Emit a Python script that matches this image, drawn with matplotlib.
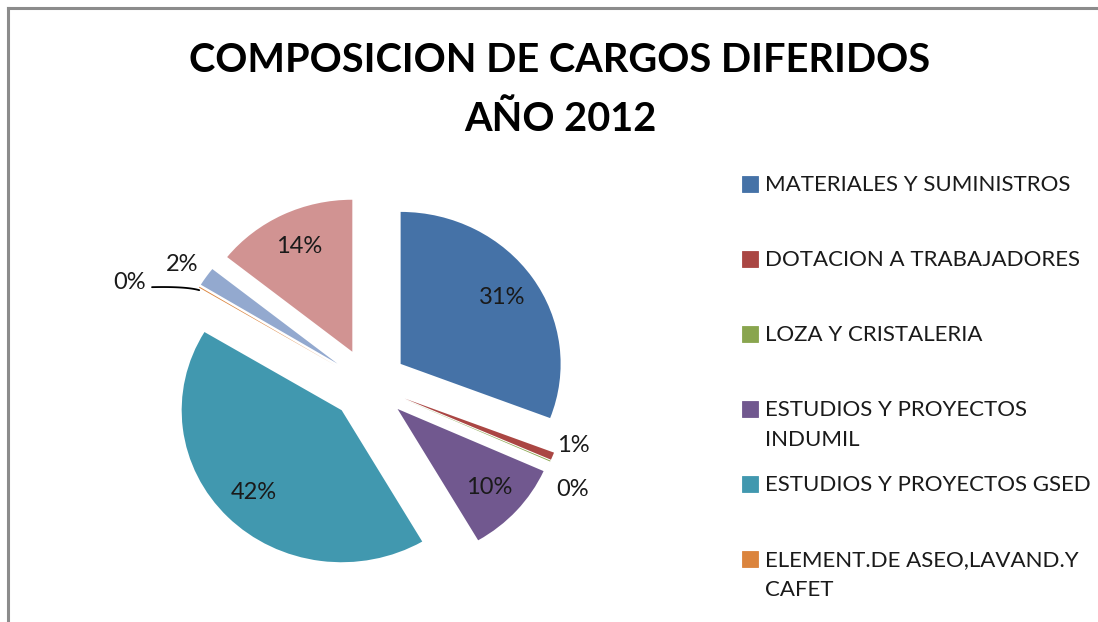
import numpy as np
import matplotlib
matplotlib.use("Agg")
import matplotlib.pyplot as plt
from matplotlib.patches import Rectangle
from matplotlib.lines import Line2D

# ---- data ----
categories = [
    "MATERIALES Y SUMINISTROS",
    "DOTACION A TRABAJADORES",
    "LOZA Y CRISTALERIA",
    "ESTUDIOS Y PROYECTOS INDUMIL",
    "ESTUDIOS Y PROYECTOS GSED",
    "ELEMENT.DE ASEO,LAVAND.Y CAFET",
    "OTROS 1",
    "OTROS 2",
]
values = [30.8, 0.8, 0.1, 9.9, 42.0, 0.1, 2.0, 14.3]
legend_labels = [
    "MATERIALES Y SUMINISTROS",
    "DOTACION A TRABAJADORES",
    "LOZA Y CRISTALERIA",
    "ESTUDIOS Y PROYECTOS\nINDUMIL",
    "ESTUDIOS Y PROYECTOS GSED",
    "ELEMENT.DE ASEO,LAVAND.Y\nCAFET",
]
colors = ["#4572A7", "#AA4643", "#89A54E", "#71588F", "#4198AF",
          "#DB843D", "#93A9CF", "#D19392"]

FONT = "Lato"
W, H = 1098, 622
fig = plt.figure(figsize=(W / 100, H / 100), dpi=100)

# border (left and top)
fig.add_artist(Line2D([7.5 / W, 7.5 / W], [0, 1 - 7.5 / H], transform=fig.transFigure,
                      color="#8c8c8c", lw=2.2))
fig.add_artist(Line2D([7.5 / W, 1], [1 - 7.5 / H, 1 - 7.5 / H], transform=fig.transFigure,
                      color="#8c8c8c", lw=2.2))

# title
fig.text(560 / W, 1 - 42 / H, "COMPOSICION DE CARGOS DIFERIDOS\nAÑO 2012",
         ha="center", va="top", fontsize=28.6, fontweight="bold", family=FONT,
         linespacing=1.72, color="black")

# pie axes: center (369,384.6) px, radius 160 px (x) x 152 px (y)
R = 1.6
rx, ry = 160, 152
cx, cy = 369, 384.6
ax = fig.add_axes([(cx - R * rx) / W, (H - cy - R * ry) / H, 2 * R * rx / W, 2 * R * ry / H])

explode_d = 0.24
wedges, _ = ax.pie(values, colors=colors, startangle=90, counterclock=False,
                   explode=[explode_d] * len(values), radius=1.0,
                   wedgeprops=dict(linewidth=0))
ax.set_xlim(-R, R)
ax.set_ylim(-R, R)
ax.set_aspect("auto")
ax.axis("off")

total = sum(values)
pctdist = 0.77
FS = 17
# label style for small slices: (radius, angle nudge in degrees)
small_style = {1: (1.34, 4.9), 2: (1.445, -4.6), 5: (1.64, 6.9), 6: (1.41, 0.9)}
for i, (w, v) in enumerate(zip(wedges, values)):
    mid = np.deg2rad((w.theta1 + w.theta2) / 2)
    ox, oy = w.center
    txt = "%.0f%%" % (100 * v / total)
    if i in small_style:
        r, dang = small_style[i]
        a = mid + np.deg2rad(dang)
        lx, ly = r * np.cos(a), r * np.sin(a)
        ax.text(lx, ly, txt, ha="center", va="center",
                fontsize=FS, family=FONT, color="#1a1a1a", clip_on=False)
        if i == 5:
            tip = (ox + np.cos(mid), oy + np.sin(mid))
            end_a = np.deg2rad(154.7)
            ex, ey = 1.50 * np.cos(end_a), 1.50 * np.sin(end_a)
            # quadratic curve from label end to slice tip
            t = np.linspace(0, 1, 30)
            c = (tip[0] - 0.08, ey + 0.005)
            px = (1 - t) ** 2 * ex + 2 * (1 - t) * t * c[0] + t ** 2 * tip[0]
            py = (1 - t) ** 2 * ey + 2 * (1 - t) * t * c[1] + t ** 2 * (tip[1] - 0.02)
            ax.plot(px, py, color="black", lw=1.3, clip_on=False,
                    solid_capstyle="round")
    else:
        lx = ox + pctdist * np.cos(mid)
        ly = oy + pctdist * np.sin(mid)
        ax.text(lx, ly, txt, ha="center", va="center", fontsize=FS,
                family=FONT, color="#1a1a1a")

# legend (manual)
box = 16
for i, lab in enumerate(legend_labels):
    top = 175 + i * 75
    fig.add_artist(Rectangle(((742) / W, 1 - (top + 1 + box) / H), box / W, box / H,
                             transform=fig.transFigure, facecolor=colors[i],
                             edgecolor=colors[i], lw=0.6))
    fig.text(765 / W, 1 - top / H, lab, ha="left", va="top", fontsize=16,
             family=FONT, color="#1a1a1a", linespacing=1.6)

fig.savefig("out.png", dpi=100, facecolor="white")
